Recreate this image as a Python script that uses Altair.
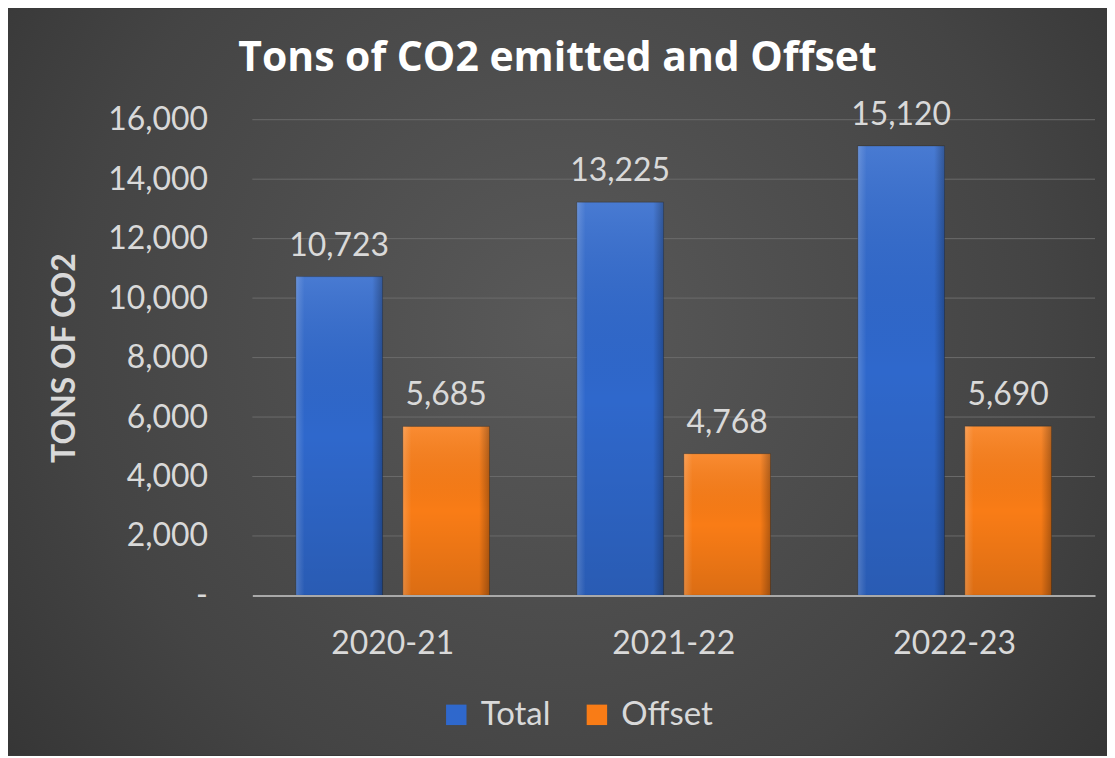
import altair as alt
import pandas as pd

categories = ["2020-21", "2021-22", "2022-23"]
series = ["Total", "Offset"]
total_values = [10723, 13225, 15120]
offset_values = [5685, 4768, 5690]
series_colors = ["#2f68cc", "#f97c16"]
y_ticks = [0, 2000, 4000, 6000, 8000, 10000, 12000, 14000, 16000]

rows = []
for i, c in enumerate(categories):
    rows.append({"year": c, "series": "Total", "value": total_values[i]})
    rows.append({"year": c, "series": "Offset", "value": offset_values[i]})
df = pd.DataFrame(rows)
grid_df = pd.DataFrame({"value": [t for t in y_ticks if t > 0]})

FONT = "Lato"
TXT = "#d9d9d9"

PAD_L, PAD_R, PAD_T, PAD_B = 245, 12, 111, 160
W, H = 845, 477

x_enc = alt.X(
    "year:N",
    sort=categories,
    scale=alt.Scale(paddingInner=0.311, paddingOuter=0.155),
    axis=alt.Axis(
        title=None, labelAngle=0, labelFontSize=32, labelColor=TXT, labelFont=FONT,
        labelPadding=33, ticks=False, domainColor="#a9a9a9", domainWidth=2, grid=False,
        zindex=1,
    ),
)
xo_enc = alt.XOffset(
    "series:N", sort=series,
    scale=alt.Scale(domain=series, paddingInner=0.19, paddingOuter=0),
)
y_axis = alt.Axis(
    title="TONS OF CO2", values=y_ticks,
    labelExpr="datum.value === 0 ? '-' : format(datum.value, ',')",
    labelFontSize=32, labelColor=TXT, labelFont=FONT, labelPadding=45,
    titleFontSize=32, titleFont=FONT, titleFontWeight="bold", titleColor=TXT,
    titlePadding=26, domain=False, ticks=False, grid=False, zindex=1,
)
y_enc = alt.Y("value:Q", scale=alt.Scale(domain=[0, 16000], nice=False), axis=y_axis)

bg_grad = alt.Gradient(
    gradient="radial",
    stops=[alt.GradientStop(color="#595959", offset=0),
           alt.GradientStop(color="#444444", offset=0.55),
           alt.GradientStop(color="#2a2a2a", offset=1)],
    x1=0.5, y1=0.45, r1=0, x2=0.5, y2=0.45, r2=0.8,
)
bg = alt.Chart(alt.Data(values=[{"k": 1}])).mark_rect(fill=bg_grad).encode(
    x=alt.value(-PAD_L), x2=alt.value(W + PAD_R),
    y=alt.value(-PAD_T), y2=alt.value(H + PAD_B),
)

grid = alt.Chart(grid_df).mark_rule(color="#6a6a6a", strokeWidth=1).encode(y=y_enc)

base = alt.Chart(df)

bars = base.mark_bar(stroke="#1c1c1c", strokeWidth=0.6, strokeOpacity=0.6).encode(
    x=x_enc, xOffset=xo_enc, y=y_enc,
    color=alt.Color(
        "series:N", sort=series,
        scale=alt.Scale(domain=series, range=series_colors),
        legend=alt.Legend(
            title=None, orient="none", direction="horizontal",
            legendX=188, legendY=580,
            labelFontSize=33, labelColor=TXT, labelFont=FONT,
            symbolType="square", symbolSize=420, symbolStrokeWidth=0,
            columnPadding=30, labelOffset=8,
        ),
    ),
)

shade_h = alt.Gradient(
    gradient="linear",
    stops=[alt.GradientStop(color="rgba(255,255,255,0.18)", offset=0),
           alt.GradientStop(color="rgba(255,255,255,0)", offset=0.1),
           alt.GradientStop(color="rgba(0,0,0,0)", offset=0.88),
           alt.GradientStop(color="rgba(0,0,0,0.28)", offset=1)],
    x1=0, x2=1, y1=0, y2=0,
)
shade_v = alt.Gradient(
    gradient="linear",
    stops=[alt.GradientStop(color="rgba(255,255,255,0.12)", offset=0),
           alt.GradientStop(color="rgba(0,0,0,0)", offset=0.5),
           alt.GradientStop(color="rgba(0,0,0,0.12)", offset=1)],
    x1=0, x2=0, y1=0, y2=1,
)
overlay_h = base.mark_bar(fill=shade_h).encode(x=x_enc, xOffset=xo_enc, y=y_enc)
overlay_v = base.mark_bar(fill=shade_v).encode(x=x_enc, xOffset=xo_enc, y=y_enc)

labels = base.mark_text(
    baseline="bottom", dy=-14, fontSize=32, color=TXT, font=FONT,
).encode(
    x=x_enc, xOffset=xo_enc, y=y_enc,
    text=alt.Text("value:Q", format=","),
)

chart = alt.layer(bg, grid, bars, overlay_v, overlay_h, labels).properties(
    width=W, height=H,
    autosize=alt.AutoSizeParams(type="none"),
    padding={"left": PAD_L, "right": PAD_R, "top": PAD_T, "bottom": PAD_B},
    background="#3a3a3a",
    title=alt.TitleParams(
        "Tons of CO2 emitted and Offset", font="Open Sans", fontSize=41, fontWeight="bold",
        color="#ffffff", anchor="middle", frame="bounds", offset=-71,
    ),
).configure_view(stroke=None)

chart.save("out.html", embed_options={"renderer": "svg", "actions": False})
